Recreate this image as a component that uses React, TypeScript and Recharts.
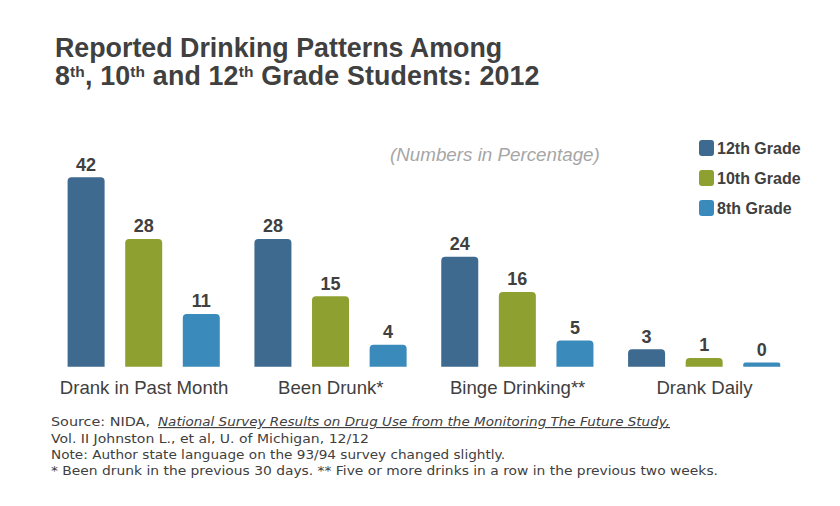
import React from 'react';
import { BarChart, Bar, XAxis, YAxis, LabelList } from 'recharts';

const categories = ['Drank in Past Month', 'Been Drunk*', 'Binge Drinking**', 'Drank Daily'];
const grade12 = [42, 28, 24, 3];
const grade10 = [28, 15, 16, 1];
const grade8 = [11, 4, 5, 0];
const seriesKeys = ['g12', 'g10', 'g8'];
const seriesNames = ['12th Grade', '10th Grade', '8th Grade'];
const seriesColors = ['#3E6A90', '#8EA030', '#3A8ABC'];

const data = categories.map((c, i) => ({ name: c, g12: grade12[i], g10: grade10[i], g8: grade8[i] }));

const TEXT = '#404040';
const SANS = "'Liberation Sans', Arial, sans-serif";
const VERD = "'DejaVu Sans', Verdana, sans-serif";

const RoundedBar = (props: any) => {
  const { x, y, width, fill, background, height } = props;
  const bottom = background && background.height ? background.y + background.height : y + height;
  const h = bottom - y;
  if (!(h > 0)) return null;
  const r = Math.min(4, h / 2, width / 2);
  const d = `M${x},${bottom} L${x},${y + r} Q${x},${y} ${x + r},${y} L${x + width - r},${y} Q${x + width},${y} ${x + width},${y + r} L${x + width},${bottom} Z`;
  return <path d={d} fill={fill} />;
};

const CatTick = (props: any) => {
  const { x, y, payload } = props;
  return (
    <text x={x} y={y} dy={27.6} textAnchor="middle" fill={TEXT} fontSize={18.6} fontFamily={SANS}>
      {payload.value}
    </text>
  );
};

const supStyle: React.CSSProperties = { fontSize: 15.5, position: 'relative', top: -8 };

export default function App() {
  return (
    <div style={{ position: 'absolute', left: 0, top: 0, width: 840, height: 506, background: '#fff' }}>
      <BarChart
        width={840}
        height={506}
        data={data}
        margin={{ top: 159.6, right: 42.1, bottom: 109.3, left: 50.6 }}
        barSize={37}
        barGap={20.6}
      >
        <XAxis dataKey="name" axisLine={false} tickLine={false} tickSize={0} tickMargin={0} height={30} tick={<CatTick />} interval={0} />
        <YAxis hide domain={[-0.95, 46]} />
        {seriesKeys.map((k, i) => (
          <Bar key={k} dataKey={k} name={seriesNames[i]} fill={seriesColors[i]} shape={<RoundedBar />} isAnimationActive={false}>
            <LabelList dataKey={k} position="top" offset={6.6} fill={TEXT} fontSize={18} fontWeight="bold" fontFamily={SANS} />
          </Bar>
        ))}
      </BarChart>
      <div
        style={{
          position: 'absolute',
          left: 55,
          top: 33.6,
          fontFamily: SANS,
          fontWeight: 'bold',
          fontSize: 26.8,
          lineHeight: '28px',
          color: TEXT,
          whiteSpace: 'nowrap',
        }}
      >
        <div>Reported Drinking Patterns Among</div>
        <div style={{ letterSpacing: 0.15 }}>
          8<span style={supStyle}>th</span>, 10<span style={supStyle}>th</span> and 12<span style={supStyle}>th</span> Grade Students: 2012
        </div>
      </div>
      <svg width={840} height={506} style={{ position: 'absolute', left: 0, top: 0, pointerEvents: 'none' }}>
        <text x={390} y={161} fill="#A6A6A6" fontStyle="italic" fontSize={18.8} fontFamily={SANS}>(Numbers in Percentage)</text>
        {seriesNames.map((n, i) => (
          <g key={n}>
            <rect x={699} y={140 + i * 30} width={15} height={16} rx={3} fill={seriesColors[i]} />
            <text x={717} y={153.5 + i * 30} fill={TEXT} fontSize={16} fontWeight="bold" fontFamily={SANS}>{n}</text>
          </g>
        ))}
        <g fill={TEXT} fontFamily={VERD} fontSize={11.5}>
          <text x={51} y={426} textLength={99} lengthAdjust="spacingAndGlyphs">Source: NIDA,</text>
          <text x={158} y={426} fontStyle="italic" textDecoration="underline" textLength={512} lengthAdjust="spacingAndGlyphs">National Survey Results on Drug Use from the Monitoring The Future Study,</text>
          <text x={51} y={442.5} textLength={318} lengthAdjust="spacingAndGlyphs">Vol. II Johnston L., et al, U. of Michigan, 12/12</text>
          <text x={51} y={459} textLength={454} lengthAdjust="spacingAndGlyphs">Note: Author state language on the 93/94 survey changed slightly.</text>
          <text x={51} y={475} textLength={667} lengthAdjust="spacingAndGlyphs">* Been drunk in the previous 30 days.  ** Five or more drinks in a row in the previous two weeks.</text>
        </g>
      </svg>
    </div>
  );
}
